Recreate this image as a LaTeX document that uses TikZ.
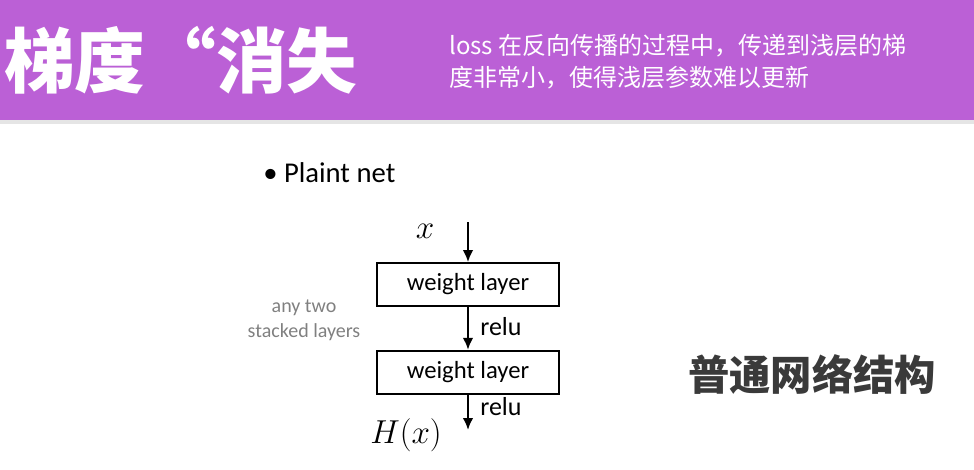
\documentclass[tikz,border=0pt]{standalone}
\usepackage{fontspec}
\setmainfont{Carlito}
\newfontfamily\cjk{Noto Sans CJK SC}
\usetikzlibrary{arrows.meta, positioning}
\definecolor{headpurple}{RGB}{187,96,214}
\definecolor{darktext}{RGB}{58,58,58}
\definecolor{notegray}{RGB}{128,128,128}

\begin{document}
\begin{tikzpicture}[x=0.75pt, y=-0.75pt,
  layerbox/.style={draw, line width=1.5pt, minimum width=137pt, minimum height=32pt, inner sep=0pt, font=\fontsize{18.5}{21}\selectfont},
  flow/.style={-{Latex[length=9pt,width=8pt]}, line width=1.7pt},
  lbl/.style={inner sep=0pt, font=\fontsize{19.5}{22}\selectfont},
  subline/.style={anchor=base west, inner sep=0pt, text=white, font=\cjk\fontsize{18}{23}\selectfont}]
  \useasboundingbox (0,0) rectangle (974,469);
  % header band
  \fill[headpurple] (0,0) rectangle (974,120);
  \fill[black!10] (0,120) rectangle (974,124);
  \node[anchor=base west, inner sep=0pt, text=white, font=\cjk\bfseries\fontsize{53}{60}\selectfont] (title) at (4,87) {梯度“消失};
  \node[subline] (subA) at (449,54) {loss 在反向传播的过程中，传递到浅层的梯};
  \node[subline] (subB) at (449,86) {度非常小，使得浅层参数难以更新};
  % plain net
  \node[anchor=base west, inner sep=0pt, font=\fontsize{21.5}{24}\selectfont] (plain) at (263,182) {\textbullet~Plaint net};
  \node[layerbox] (wl1) at (468,284.5) {weight layer};
  \node[layerbox, below=32.25pt of wl1] (wl2) {weight layer};
  \coordinate (xin) at (468,222);
  \coordinate (hout) at (468,430);
  \draw[flow] (xin) -- (wl1);
  \draw[flow] (wl1) -- (wl2);
  \draw[flow] (wl2) -- (hout);
  \node[lbl, anchor=west] (relu1) at (480,327) {relu};
  \node[lbl, anchor=west] (relu2) at (480,407) {relu};
  \node[inner sep=0pt, font=\fontsize{24}{26}\selectfont] (xlab) at (425,231) {$x$};
  \node[inner sep=0pt, font=\fontsize{23}{26}\selectfont] (hlab) at (406,435) {$H(x)$};
  \node[align=center, inner sep=0pt, text=notegray, font=\fontsize{15}{19}\selectfont] (note) at (304,320) {any two\\stacked layers};
  % right label
  \node[inner sep=0pt, text=darktext, font=\cjk\bfseries\fontsize{31}{36}\selectfont] (plainlabel) at (812,375) {普通网络结构};
\end{tikzpicture}
\end{document}
